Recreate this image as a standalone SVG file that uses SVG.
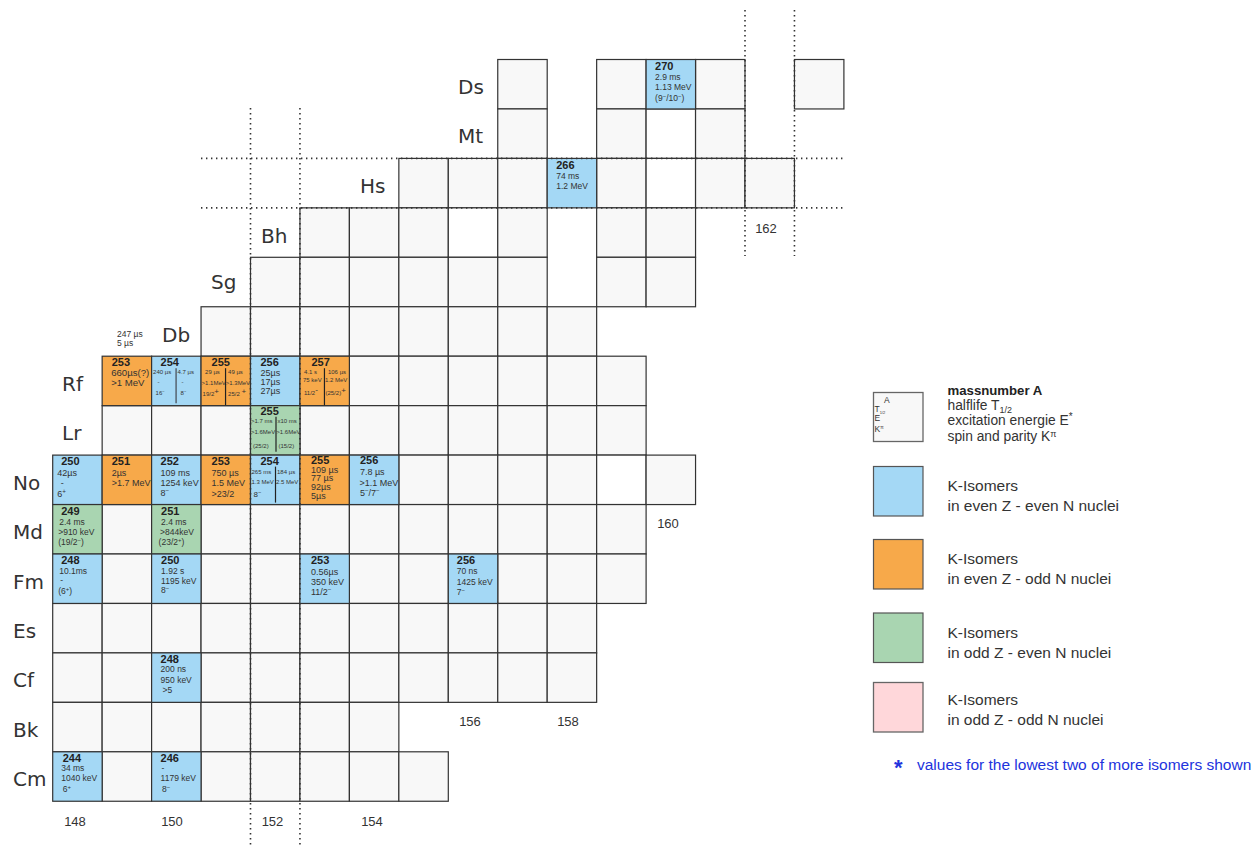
<svg xmlns="http://www.w3.org/2000/svg" xmlns:xlink="http://www.w3.org/1999/xlink" width="1255" height="848" viewBox="0 0 1255 848">
<style>
.c{fill:#f8f8f8;stroke:#333;stroke-width:1.2}
.w{fill:#ffffff;stroke:#333;stroke-width:1.2}
.b{fill:#a4d8f5;stroke:#333;stroke-width:1.2}
.o{fill:#f7a94a;stroke:#333;stroke-width:1.2}
.g{fill:#a9d5b1;stroke:#333;stroke-width:1.2}
.p{fill:#ffd7da;stroke:#666;stroke-width:1.3}
.el{font-family:"DejaVu Sans",Verdana,sans-serif;font-size:20px;fill:#333}
.m{font-family:"Liberation Sans",Arial,sans-serif;font-weight:bold;font-size:11px;fill:#222}
.t{font-family:"Liberation Sans",Arial,sans-serif;font-size:8.5px;fill:#333}
.t9{font-family:"Liberation Sans",Arial,sans-serif;font-size:9px;fill:#333}
.t10{font-family:"Liberation Sans",Arial,sans-serif;font-size:9.6px;fill:#333}
.s{font-family:"Liberation Sans",Arial,sans-serif;font-size:6px;fill:#333}
.sp{font-size:70%;baseline-shift:super}
.split{stroke:#222;stroke-width:1.2}
.nl{font-family:"Liberation Sans",Arial,sans-serif;font-size:13px;fill:#333;text-anchor:middle}
.dot{stroke:#333;stroke-width:1.6;stroke-dasharray:1.4 3.6;fill:none}
.lg{font-family:"Liberation Sans",Arial,sans-serif;font-size:15.5px;fill:#333}
.lt{font-family:"Liberation Sans",Arial,sans-serif;font-size:13.8px;fill:#333}
.lb{font-family:"Liberation Sans",Arial,sans-serif;font-size:13.2px;font-weight:bold;fill:#222}
.key{font-family:"Liberation Sans",Arial,sans-serif;font-size:8.5px;fill:#333}
</style>
<defs>
<rect id="cell" class="c" width="49.45" height="49.45"/>
<rect id="wcell" class="w" width="49.45" height="49.45"/>
</defs>

<g id="element-labels">
<text class="el" x="458" y="94">Ds</text>
<text class="el" x="458" y="143">Mt</text>
<text class="el" x="360" y="193">Hs</text>
<text class="el" x="261" y="243">Bh</text>
<text class="el" x="211" y="289">Sg</text>
<text class="el" x="162" y="342">Db</text>
<text class="el" x="62" y="391">Rf</text>
<text class="el" x="62" y="440">Lr</text>
<text class="el" x="13" y="490">No</text>
<text class="el" x="13" y="539">Md</text>
<text class="el" x="13" y="589">Fm</text>
<text class="el" x="13" y="638">Es</text>
<text class="el" x="13" y="687">Cf</text>
<text class="el" x="13" y="737">Bk</text>
<text class="el" x="13" y="786">Cm</text>
</g>

<g id="empty-cells">
<use id="Ds-N157" href="#cell" x="497.75" y="59.5"/>
<use id="Ds-N159" href="#cell" x="596.65" y="59.5"/>
<use id="Ds-N161" href="#cell" x="695.55" y="59.5"/>
<use id="Ds-N163" href="#cell" x="794.45" y="59.5"/>
<use id="Mt-N157" href="#cell" x="497.75" y="108.95"/>
<use id="Mt-N159" href="#cell" x="596.65" y="108.95"/>
<use id="Mt-N160" href="#wcell" x="646.1" y="108.95"/>
<use id="Mt-N161" href="#cell" x="695.55" y="108.95"/>
<use id="Hs-N155" href="#cell" x="398.85" y="158.4"/>
<use id="Hs-N156" href="#cell" x="448.3" y="158.4"/>
<use id="Hs-N157" href="#cell" x="497.75" y="158.4"/>
<use id="Hs-N159" href="#cell" x="596.65" y="158.4"/>
<use id="Hs-N160" href="#wcell" x="646.1" y="158.4"/>
<use id="Hs-N161" href="#cell" x="695.55" y="158.4"/>
<use id="Hs-N162" href="#cell" x="745" y="158.4"/>
<use id="Bh-N153" href="#cell" x="299.95" y="207.85"/>
<use id="Bh-N154" href="#cell" x="349.4" y="207.85"/>
<use id="Bh-N155" href="#cell" x="398.85" y="207.85"/>
<use id="Bh-N156" href="#wcell" x="448.3" y="207.85"/>
<use id="Bh-N157" href="#cell" x="497.75" y="207.85"/>
<use id="Bh-N159" href="#cell" x="596.65" y="207.85"/>
<use id="Bh-N160" href="#cell" x="646.1" y="207.85"/>
<use id="Sg-N152" href="#cell" x="250.5" y="257.3"/>
<use id="Sg-N153" href="#cell" x="299.95" y="257.3"/>
<use id="Sg-N154" href="#cell" x="349.4" y="257.3"/>
<use id="Sg-N155" href="#cell" x="398.85" y="257.3"/>
<use id="Sg-N156" href="#cell" x="448.3" y="257.3"/>
<use id="Sg-N157" href="#cell" x="497.75" y="257.3"/>
<use id="Sg-N159" href="#cell" x="596.65" y="257.3"/>
<use id="Sg-N160" href="#cell" x="646.1" y="257.3"/>
<use id="Db-N151" href="#cell" x="201.05" y="306.75"/>
<use id="Db-N152" href="#cell" x="250.5" y="306.75"/>
<use id="Db-N153" href="#cell" x="299.95" y="306.75"/>
<use id="Db-N154" href="#cell" x="349.4" y="306.75"/>
<use id="Db-N155" href="#cell" x="398.85" y="306.75"/>
<use id="Db-N156" href="#cell" x="448.3" y="306.75"/>
<use id="Db-N157" href="#cell" x="497.75" y="306.75"/>
<use id="Db-N158" href="#cell" x="547.2" y="306.75"/>
<use id="Rf-N154" href="#cell" x="349.4" y="356.2"/>
<use id="Rf-N155" href="#cell" x="398.85" y="356.2"/>
<use id="Rf-N156" href="#cell" x="448.3" y="356.2"/>
<use id="Rf-N157" href="#cell" x="497.75" y="356.2"/>
<use id="Rf-N158" href="#cell" x="547.2" y="356.2"/>
<use id="Rf-N159" href="#cell" x="596.65" y="356.2"/>
<use id="Lr-N149" href="#cell" x="102.15" y="405.65"/>
<use id="Lr-N150" href="#cell" x="151.6" y="405.65"/>
<use id="Lr-N151" href="#cell" x="201.05" y="405.65"/>
<use id="Lr-N153" href="#cell" x="299.95" y="405.65"/>
<use id="Lr-N154" href="#cell" x="349.4" y="405.65"/>
<use id="Lr-N155" href="#cell" x="398.85" y="405.65"/>
<use id="Lr-N156" href="#cell" x="448.3" y="405.65"/>
<use id="Lr-N157" href="#cell" x="497.75" y="405.65"/>
<use id="Lr-N158" href="#cell" x="547.2" y="405.65"/>
<use id="Lr-N159" href="#cell" x="596.65" y="405.65"/>
<use id="No-N155" href="#cell" x="398.85" y="455.1"/>
<use id="No-N156" href="#cell" x="448.3" y="455.1"/>
<use id="No-N157" href="#cell" x="497.75" y="455.1"/>
<use id="No-N158" href="#cell" x="547.2" y="455.1"/>
<use id="No-N159" href="#wcell" x="596.65" y="455.1"/>
<use id="No-N160" href="#cell" x="646.1" y="455.1"/>
<use id="Md-N149" href="#cell" x="102.15" y="504.55"/>
<use id="Md-N151" href="#cell" x="201.05" y="504.55"/>
<use id="Md-N152" href="#cell" x="250.5" y="504.55"/>
<use id="Md-N153" href="#cell" x="299.95" y="504.55"/>
<use id="Md-N154" href="#cell" x="349.4" y="504.55"/>
<use id="Md-N155" href="#cell" x="398.85" y="504.55"/>
<use id="Md-N156" href="#cell" x="448.3" y="504.55"/>
<use id="Md-N157" href="#cell" x="497.75" y="504.55"/>
<use id="Md-N158" href="#cell" x="547.2" y="504.55"/>
<use id="Md-N159" href="#cell" x="596.65" y="504.55"/>
<use id="Fm-N149" href="#cell" x="102.15" y="554"/>
<use id="Fm-N151" href="#cell" x="201.05" y="554"/>
<use id="Fm-N152" href="#cell" x="250.5" y="554"/>
<use id="Fm-N154" href="#cell" x="349.4" y="554"/>
<use id="Fm-N155" href="#cell" x="398.85" y="554"/>
<use id="Fm-N157" href="#cell" x="497.75" y="554"/>
<use id="Fm-N158" href="#cell" x="547.2" y="554"/>
<use id="Fm-N159" href="#cell" x="596.65" y="554"/>
<use id="Es-N148" href="#cell" x="52.7" y="603.45"/>
<use id="Es-N149" href="#cell" x="102.15" y="603.45"/>
<use id="Es-N150" href="#cell" x="151.6" y="603.45"/>
<use id="Es-N151" href="#cell" x="201.05" y="603.45"/>
<use id="Es-N152" href="#cell" x="250.5" y="603.45"/>
<use id="Es-N153" href="#cell" x="299.95" y="603.45"/>
<use id="Es-N154" href="#cell" x="349.4" y="603.45"/>
<use id="Es-N155" href="#cell" x="398.85" y="603.45"/>
<use id="Es-N156" href="#cell" x="448.3" y="603.45"/>
<use id="Es-N157" href="#cell" x="497.75" y="603.45"/>
<use id="Es-N158" href="#cell" x="547.2" y="603.45"/>
<use id="Cf-N148" href="#cell" x="52.7" y="652.9"/>
<use id="Cf-N149" href="#cell" x="102.15" y="652.9"/>
<use id="Cf-N151" href="#cell" x="201.05" y="652.9"/>
<use id="Cf-N152" href="#cell" x="250.5" y="652.9"/>
<use id="Cf-N153" href="#cell" x="299.95" y="652.9"/>
<use id="Cf-N154" href="#cell" x="349.4" y="652.9"/>
<use id="Cf-N155" href="#cell" x="398.85" y="652.9"/>
<use id="Cf-N156" href="#cell" x="448.3" y="652.9"/>
<use id="Cf-N157" href="#cell" x="497.75" y="652.9"/>
<use id="Cf-N158" href="#cell" x="547.2" y="652.9"/>
<use id="Bk-N148" href="#cell" x="52.7" y="702.35"/>
<use id="Bk-N149" href="#cell" x="102.15" y="702.35"/>
<use id="Bk-N150" href="#cell" x="151.6" y="702.35"/>
<use id="Bk-N151" href="#cell" x="201.05" y="702.35"/>
<use id="Bk-N152" href="#cell" x="250.5" y="702.35"/>
<use id="Bk-N153" href="#cell" x="299.95" y="702.35"/>
<use id="Bk-N154" href="#cell" x="349.4" y="702.35"/>
<use id="Cm-N149" href="#cell" x="102.15" y="751.8"/>
<use id="Cm-N151" href="#cell" x="201.05" y="751.8"/>
<use id="Cm-N152" href="#cell" x="250.5" y="751.8"/>
<use id="Cm-N153" href="#cell" x="299.95" y="751.8"/>
<use id="Cm-N154" href="#cell" x="349.4" y="751.8"/>
<use id="Cm-N155" href="#cell" x="398.85" y="751.8"/>
</g>

<g id="Ds270" transform="translate(646.1,59.5)">
<rect class="b" width="49.45" height="49.45"/>
<text class="m" x="9" y="10.5">270</text>
<text class="t" x="9" y="20.5">2.9 ms</text>
<text class="t" x="9" y="30.5">1.13 MeV</text>
<text class="t" x="9" y="41.5">(9<tspan class="sp">−</tspan>/10<tspan class="sp">−</tspan>)</text>
</g>

<g id="Hs266" transform="translate(547.2,158.4)">
<rect class="b" width="49.45" height="49.45"/>
<text class="m" x="9" y="11">266</text>
<text class="t" x="9" y="21">74 ms</text>
<text class="t" x="9" y="31">1.2 MeV</text>
</g>

<g id="Rf253" transform="translate(102.15,356.2)">
<rect class="o" width="49.45" height="49.45"/>
<text class="m" x="9.5" y="10">253</text>
<text class="t10" x="9" y="20">660µs(?)</text>
<text class="t10" x="9" y="29.5">&gt;1 MeV</text>
</g>

<g id="Rf254" transform="translate(151.6,356.2)">
<rect class="b" width="49.45" height="49.45"/>
<text class="m" x="9" y="10">254</text>
<line x1="24.5" y1="12" x2="24.5" y2="47" stroke="#5b6b79" stroke-width="1.6"/>
<text class="s" x="1.5" y="18">240 µs</text>
<text class="s" x="6" y="28">-</text>
<text class="s" x="4" y="39">16<tspan class="sp">−</tspan></text>
<text class="s" x="26" y="18">4.7 µs</text>
<text class="s" x="30" y="28">-</text>
<text class="s" x="29" y="39">8<tspan class="sp">−</tspan></text>
</g>

<g id="Rf255" transform="translate(201.05,356.2)">
<rect class="o" width="49.45" height="49.45"/>
<text class="m" x="10.5" y="10">255</text>
<line class="split" x1="24.5" y1="12" x2="24.5" y2="49"/>
<text class="s" x="4" y="18">29 µs</text>
<text class="s" x="0.5" y="29">&gt;1.1MeV</text>
<text class="s" x="1.5" y="40">19/2<tspan font-size="8" baseline-shift="2">+</tspan></text>
<text class="s" x="27" y="18">49 µs</text>
<text class="s" x="24.8" y="29">&gt;1.3MeV</text>
<text class="s" x="27" y="40">25/2 <tspan font-size="8" baseline-shift="2">+</tspan></text>
</g>

<g id="Rf256" transform="translate(250.5,356.2)">
<rect class="b" width="49.45" height="49.45"/>
<text class="m" x="10" y="10">256</text>
<text class="t9" x="10" y="20">25µs</text>
<text class="t9" x="10" y="29">17µs</text>
<text class="t9" x="10" y="38">27µs</text>
</g>

<g id="Rf257" transform="translate(299.95,356.2)">
<rect class="o" width="49.45" height="49.45"/>
<text class="m" x="11.5" y="10">257</text>
<line class="split" x1="24.5" y1="12" x2="24.5" y2="49"/>
<text class="s" x="4" y="18">4.1 s</text>
<text class="s" x="3" y="26">75 keV</text>
<text class="s" x="4" y="39">11/2<tspan font-size="8" baseline-shift="3">-</tspan></text>
<text class="s" x="28" y="18">106 µs</text>
<text class="s" x="25" y="26">1.2 MeV</text>
<text class="s" x="25.5" y="39">(25/2)<tspan font-size="8" baseline-shift="2">+</tspan></text>
</g>

<g id="Lr255" transform="translate(250.5,405.65)">
<rect class="g" width="49.45" height="49.45"/>
<text class="m" x="10" y="9.5">255</text>
<line class="split" x1="25.5" y1="11" x2="25.5" y2="46"/>
<text class="s" x="0.5" y="17">&gt;1.7 ms</text>
<text class="s" x="0.5" y="28">&gt;1.6MeV</text>
<text class="s" x="2.5" y="42.5">(25/2)</text>
<text class="s" x="27" y="17">x10 ms</text>
<text class="s" x="25.8" y="28">&gt;1.6MeV</text>
<text class="s" x="28" y="42.5">(15/2)</text>
</g>

<g id="No250" transform="translate(52.7,455.1)">
<rect class="b" width="49.45" height="49.45"/>
<text class="m" x="8.5" y="9.5">250</text>
<text class="t9" x="4.5" y="20.5">42µs</text>
<text class="t9" x="8" y="31">-</text>
<text class="t9" x="4.5" y="41.5">6<tspan class="sp">+</tspan></text>
</g>

<g id="No251" transform="translate(102.15,455.1)">
<rect class="o" width="49.45" height="49.45"/>
<text class="m" x="9.5" y="9.5">251</text>
<text class="t9" x="9.5" y="20.5">2µs</text>
<text class="t9" x="9.5" y="31">&gt;1.7 MeV</text>
</g>

<g id="No252" transform="translate(151.6,455.1)">
<rect class="b" width="49.45" height="49.45"/>
<text class="m" x="9" y="9.5">252</text>
<text class="t9" x="9" y="20.5">109 ms</text>
<text class="t9" x="9" y="31">1254 keV</text>
<text class="t9" x="9" y="41">8<tspan class="sp">−</tspan></text>
</g>

<g id="No253" transform="translate(201.05,455.1)">
<rect class="o" width="49.45" height="49.45"/>
<text class="m" x="10.5" y="9.5">253</text>
<text class="t9" x="10.5" y="20.5">750 µs</text>
<text class="t9" x="10.5" y="31">1.5 MeV</text>
<text class="t9" x="10.5" y="41.5">&gt;23/2</text>
</g>

<g id="No254" transform="translate(250.5,455.1)">
<rect class="b" width="49.45" height="49.45"/>
<text class="m" x="10" y="9.5">254</text>
<line class="split" x1="25" y1="11.5" x2="25" y2="47.5"/>
<text class="s" x="1" y="19">265 ms</text>
<text class="s" x="1" y="29">1.3 MeV</text>
<text class="s" x="3" y="41.5" style="font-size:8px">8<tspan class="sp">−</tspan></text>
<text class="s" x="26.5" y="19">184 µs</text>
<text class="s" x="25.5" y="29">2.5 MeV</text>
</g>

<g id="No255" transform="translate(299.95,455.1)">
<rect class="o" width="49.45" height="49.45"/>
<text class="m" x="11" y="9">255</text>
<text class="t9" x="11" y="17.5">109 µs</text>
<text class="t9" x="11" y="26">77 µs</text>
<text class="t9" x="11" y="35">92µs</text>
<text class="t9" x="11" y="44">5µs</text>
</g>

<g id="No256" transform="translate(349.4,455.1)">
<rect class="b" width="49.45" height="49.45"/>
<text class="m" x="10.5" y="9">256</text>
<text class="t9" x="10.5" y="19.5">7.8 µs</text>
<text class="t9" x="10" y="30.5">&gt;1.1 MeV</text>
<text class="t9" x="10.5" y="41">5<tspan class="sp">−</tspan>/7<tspan class="sp">−</tspan></text>
</g>

<g id="Md249" transform="translate(52.7,504.55)">
<rect class="g" width="49.45" height="49.45"/>
<text class="m" x="8.5" y="10.5">249</text>
<text class="t" x="6.5" y="20.5">2.4 ms</text>
<text class="t" x="5.5" y="30">&gt;910 keV</text>
<text class="t" x="5.5" y="40.5">(19/2<tspan class="sp">−</tspan>)</text>
</g>

<g id="Md251" transform="translate(151.6,504.55)">
<rect class="g" width="49.45" height="49.45"/>
<text class="m" x="9.5" y="10.5">251</text>
<text class="t" x="9.5" y="20.5">2.4 ms</text>
<text class="t" x="8.5" y="30">&gt;844keV</text>
<text class="t" x="7" y="40.5">(23/2<tspan class="sp">+</tspan>)</text>
</g>

<g id="Fm248" transform="translate(52.7,554)">
<rect class="b" width="49.45" height="49.45"/>
<text class="m" x="8.5" y="9.5">248</text>
<text class="t" x="6.5" y="19.5">10.1ms</text>
<text class="t" x="7.5" y="29">-</text>
<text class="t" x="5.5" y="39.5">(6<tspan class="sp">+</tspan>)</text>
</g>

<g id="Fm250" transform="translate(151.6,554)">
<rect class="b" width="49.45" height="49.45"/>
<text class="m" x="9.5" y="9.5">250</text>
<text class="t" x="9.5" y="19.5">1.92 s</text>
<text class="t" x="9.5" y="29.5">1195 keV</text>
<text class="t" x="9.5" y="39">8<tspan class="sp">−</tspan></text>
</g>

<g id="Fm253" transform="translate(299.95,554)">
<rect class="b" width="49.45" height="49.45"/>
<text class="m" x="11" y="9.5">253</text>
<text class="t9" x="11" y="21">0.56µs</text>
<text class="t9" x="11" y="31">350 keV</text>
<text class="t9" x="11" y="41">11/2<tspan class="sp">−</tspan></text>
</g>

<g id="Fm256" transform="translate(448.3,554)">
<rect class="b" width="49.45" height="49.45"/>
<text class="m" x="8.5" y="9.5">256</text>
<text class="t" x="8.5" y="19.5">70 ns</text>
<text class="t" x="8.5" y="30.5">1425 keV</text>
<text class="t" x="8.5" y="40.5">7<tspan class="sp">−</tspan></text>
</g>

<g id="Cf248" transform="translate(151.6,652.9)">
<rect class="b" width="49.45" height="49.45"/>
<text class="m" x="9" y="10">248</text>
<text class="t" x="9" y="19.5">200 ns</text>
<text class="t" x="9" y="30.5">950 keV</text>
<text class="t" x="11" y="40.5">&gt;5</text>
</g>

<g id="Cm244" transform="translate(52.7,751.8)">
<rect class="b" width="49.45" height="49.45"/>
<text class="m" x="10" y="10">244</text>
<text class="t" x="8.5" y="19.5">34 ms</text>
<text class="t" x="8.5" y="29.5">1040 keV</text>
<text class="t" x="10" y="40">6<tspan class="sp">+</tspan></text>
</g>

<g id="Cm246" transform="translate(151.6,751.8)">
<rect class="b" width="49.45" height="49.45"/>
<text class="m" x="9" y="10">246</text>
<text class="t" x="10" y="19">-</text>
<text class="t" x="9" y="29.5">1179 keV</text>
<text class="t" x="10.5" y="40">8<tspan class="sp">−</tspan></text>
</g>

<g id="Db-note">
<text class="t" x="117" y="336.5">247 µs</text>
<text class="t" x="117" y="345.5">5 µs</text>
</g>

<g id="connectors">
<line class="dot" x1="201" y1="158.4" x2="845" y2="158.4"/>
<line class="dot" x1="201" y1="207.85" x2="845" y2="207.85"/>
<line class="dot" x1="250.5" y1="108" x2="250.5" y2="846"/>
<line class="dot" x1="299.95" y1="108" x2="299.95" y2="846"/>
<line class="dot" x1="745" y1="10" x2="745" y2="256"/>
<line class="dot" x1="794.45" y1="10" x2="794.45" y2="256"/>
</g>

<g id="neutron-labels">
<text class="nl" x="75" y="826">148</text>
<text class="nl" x="172" y="826">150</text>
<text class="nl" x="272.5" y="826">152</text>
<text class="nl" x="372" y="826">154</text>
<text class="nl" x="470" y="726">156</text>
<text class="nl" x="568" y="726">158</text>
<text class="nl" x="668" y="528">160</text>
<text class="nl" x="766" y="233">162</text>
</g>

<g id="legend">
<g id="legend-key">
<rect x="873.5" y="392.5" width="49.5" height="49" fill="#f8f8f8" stroke="#666" stroke-width="1.3"/>
<text class="key" x="884" y="403">A</text>
<text class="key" x="874.5" y="412">T<tspan style="font-size:4px" baseline-shift="-1.5">1/2</tspan></text>
<text class="key" x="874.5" y="421">E</text>
<text class="key" x="874.5" y="432">K<tspan style="font-size:5px" baseline-shift="3">π</tspan></text>
<text class="lb" x="947.5" y="394.5">massnumber A</text>
<text class="lt" x="947.5" y="409.5">halflife T<tspan style="font-size:9px" baseline-shift="-3">1/2</tspan></text>
<text class="lt" x="947.5" y="425">excitation energie E<tspan style="font-size:10px" baseline-shift="5">*</tspan></text>
<text class="lt" x="947.5" y="440.5">spin and parity K<tspan style="font-size:9px" baseline-shift="4">π</tspan></text>
</g>
<g id="legend-ee">
<rect class="b" x="873.5" y="466.5" width="49.5" height="49.5" style="stroke:#555"/>
<text class="lg" x="947.5" y="490.5">K-Isomers</text>
<text class="lg" x="947.5" y="511">in even Z - even N nuclei</text>
</g>
<g id="legend-eo">
<rect class="o" x="873.5" y="539.5" width="49.5" height="49.5" style="stroke:#555"/>
<text class="lg" x="947.5" y="563.5">K-Isomers</text>
<text class="lg" x="947.5" y="584">in even Z - odd N nuclei</text>
</g>
<g id="legend-oe">
<rect class="g" x="873.5" y="613" width="49.5" height="49.5" style="stroke:#555"/>
<text class="lg" x="947.5" y="637.5">K-Isomers</text>
<text class="lg" x="947.5" y="658">in odd Z - even N nuclei</text>
</g>
<g id="legend-oo">
<rect class="p" x="873.5" y="682.5" width="49.5" height="49.5"/>
<text class="lg" x="947.5" y="704.5">K-Isomers</text>
<text class="lg" x="947.5" y="725">in odd Z - odd N nuclei</text>
</g>
<g id="legend-note">
<text x="894" y="775" font-family="Liberation Sans,Arial,sans-serif" font-size="22" font-weight="bold" fill="#2233dd">*</text>
<text x="917" y="770" font-family="Liberation Sans,Arial,sans-serif" font-size="15.5" fill="#2233dd">values for the lowest two of more isomers shown</text>
</g>
</g>
</svg>
